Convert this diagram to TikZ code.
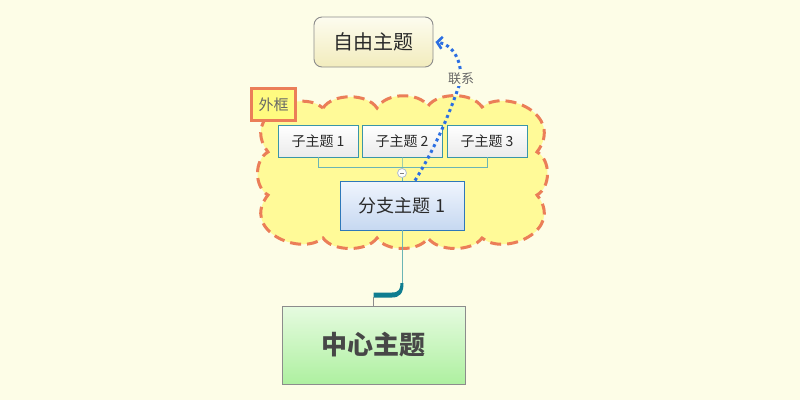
\documentclass[tikz,border=0pt]{standalone}
\usepackage{fontspec}
\newfontfamily\cjk{Noto Sans CJK SC}
\usetikzlibrary{arrows.meta,shapes.geometric}
\definecolor{paper}{HTML}{FDFDE7}
\definecolor{cloudfill}{HTML}{FFFA98}
\definecolor{cloudline}{HTML}{EB7E58}
\definecolor{teal}{HTML}{3A96A8}
\definecolor{tealthin}{HTML}{6BB5B5}
\definecolor{tealdark}{HTML}{0F7D90}
\definecolor{relblue}{HTML}{2C6FE2}
\definecolor{boxgray}{HTML}{8C8C8C}
\definecolor{txt}{HTML}{2A2A2A}
\definecolor{branchtop}{HTML}{F0F5FD}
\definecolor{branchbot}{HTML}{C6D8F1}
\definecolor{centraltop}{HTML}{E6FBE0}
\definecolor{centralbot}{HTML}{AEF0A0}
\definecolor{freetop}{HTML}{FDFCEF}
\definecolor{freebot}{HTML}{F2ECBD}
\definecolor{labelfill}{HTML}{FFFB80}
\tikzset{
  subbox/.style={draw=teal, line width=0.9pt, shading=axis, top color=white,
    bottom color=black!8, minimum width=80pt, minimum height=32pt, inner sep=0pt,
    font=\cjk\fontsize{14}{14}\selectfont, text=txt},
  branchbox/.style={draw=teal!80!blue, line width=0.9pt, shading=axis,
    top color=branchtop, bottom color=branchbot, minimum width=124pt,
    minimum height=49pt, inner sep=0pt, font=\cjk\fontsize{18}{18}\selectfont, text=txt},
  centralbox/.style={draw=boxgray, line width=0.9pt, shading=axis,
    top color=centraltop, bottom color=centralbot, minimum width=183pt,
    minimum height=78pt, inner sep=0pt, font=\cjk\bfseries\fontsize{26}{26}\selectfont,
    text=black!72},
  freebox/.style={draw=boxgray, line width=0.9pt, rounded corners=8pt, shading=axis,
    top color=freetop, bottom color=freebot, minimum width=119pt,
    minimum height=50pt, inner sep=0pt, font=\cjk\fontsize{20}{20}\selectfont, text=txt},
  framelabel/.style={draw=cloudline, line width=3pt, fill=labelfill,
    minimum width=44pt, minimum height=32pt, inner sep=0pt,
    font=\cjk\fontsize{15}{15}\selectfont, text=black!60},
  branchline/.style={draw=tealthin, line width=1pt},
  relation/.style={draw=relblue, line width=3pt, dash pattern=on 3pt off 3.4pt},
}
\begin{document}
\begin{tikzpicture}[x=1pt,y=-1pt]
  % page
  \fill[paper] (0,0) rectangle (800,400);
  \useasboundingbox (0,0) rectangle (800,400);

  % boundary cloud round the branch
  \path[fill=cloudfill, draw=cloudline, line width=3pt, dash pattern=on 11pt off 6pt]
    (323,108) .. controls (333,93) and (367,93) .. (377,108)
    .. controls (386,92) and (419,92) .. (428,106)
    .. controls (438,92) and (472,92) .. (482,107)
    .. controls (505,88) and (565,115) .. (537,152)
    .. controls (551,160) and (551,187) .. (537,195)
    .. controls (565,230) and (505,257) .. (482,238)
    .. controls (472,252) and (438,252) .. (428,238)
    .. controls (419,252) and (386,252) .. (377,238)
    .. controls (367,252) and (333,252) .. (323,238)
    .. controls (300,257) and (240,230) .. (268,195)
    .. controls (254,187) and (254,160) .. (268,152)
    .. controls (240,115) and (300,88) .. cycle;

  % topics
  \node[freebox] (free) at (373.5,42) {自由主题};
  \node[subbox] (s1) at (318,141) {子主题 1};
  \node[subbox] (s2) at (402,141) {子主题 2};
  \node[subbox] (s3) at (487,141) {子主题 3};
  \node[branchbox] (branch) at (402,205.5) {分支主题 1};
  \node[centralbox] (central) at (373.5,345) {中心主题};
  \node[framelabel] (frame) at (273.5,104.5) {外框};

  % subtopic connectors
  \coordinate (hub) at (402,167);
  \draw[branchline] (s1.south) |- (hub);
  \draw[branchline] (s3.south) |- (hub);
  \draw[branchline] (s2.south) -- (hub) -- (branch.north);
  \node[circle, draw=branchbot!70!gray, fill=white, line width=0.8pt,
        minimum size=9pt, inner sep=0pt] (fold) at (402,173) {};
  \draw[gray, line width=0.8pt] ([xshift=-2.2pt]fold.center) -- ([xshift=2.2pt]fold.center);

  % branch to central topic
  \coordinate (knee) at (402,283);
  \coordinate (foot) at (373.5,297);
  \draw[branchline] (branch.south) -- (knee);
  \fill[tealdark] (373.5,292.5) -- (392,292.5)
    .. controls (399,292.5) and (400.5,289) .. (400.5,283) -- (403.5,283)
    .. controls (403.5,293) and (400,297.5) .. (392,297.5) -- (373.5,297.5) -- cycle;
  \draw[boxgray, line width=1pt] (foot) -- (central.north);

  % relationship: rises from the branch, then hooks left into the free topic
  \coordinate (relbend) at (459,86);
  \draw[relation, -{Straight Barb[length=5pt,width=12pt,line width=2.6pt]}]
    ([xshift=13pt]branch.north) .. controls (440,140) and (452,105) .. (relbend)
    .. controls (465,62) and (452,44) .. ([xshift=2pt]free.east);
  \node[fill=paper, inner sep=1pt, font=\cjk\fontsize{13}{13}\selectfont,
        text=black!60] (rel) at (461,79) {联系};
\end{tikzpicture}
\end{document}
